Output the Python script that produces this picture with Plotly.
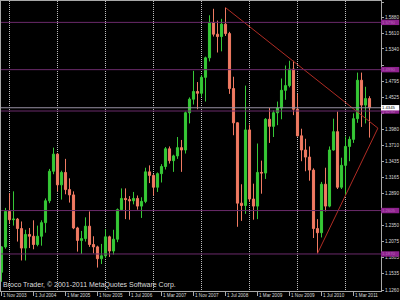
import plotly.graph_objects as go

# ---- data: EURUSD monthly, Nov 2003 .. Jul 2011 ----
months = ["2003-11", "2003-12"] + [f"{y}-{m:02d}" for y in range(2004, 2011) for m in range(1, 13)] + \
         [f"2011-{m:02d}" for m in range(1, 8)]

opens = [1.1560, 1.1990,
         1.2590, 1.2450, 1.2460, 1.2300, 1.1970, 1.2200, 1.2170, 1.2030, 1.2170, 1.2400, 1.2770, 1.3270,
         1.3560, 1.3040, 1.3250, 1.2960, 1.2870, 1.2310, 1.2100, 1.2130, 1.2340, 1.2030, 1.1990, 1.1790,
         1.1840, 1.2160, 1.1920, 1.2120, 1.2620, 1.2810, 1.2790, 1.2770, 1.2810, 1.2680, 1.2760, 1.3260,
         1.3200, 1.3000, 1.3230, 1.3350, 1.3650, 1.3450, 1.3530, 1.3670, 1.3630, 1.4260, 1.4490, 1.4620,
         1.4590, 1.4860, 1.5190, 1.5790, 1.5590, 1.5550, 1.5760, 1.5600, 1.4670, 1.4090, 1.2730, 1.2690,
         1.3970, 1.2800, 1.2680, 1.3250, 1.3240, 1.4150, 1.4030, 1.4260, 1.4340, 1.4640, 1.4720, 1.5000,
         1.4320, 1.3870, 1.3630, 1.3510, 1.3290, 1.2300, 1.2230, 1.3050, 1.2680, 1.3630, 1.3940, 1.3000,
         1.3370, 1.3690, 1.3810, 1.4160, 1.4810, 1.4390, 1.4500]
highs = [1.2000, 1.2650,
         1.2900, 1.2930, 1.2480, 1.2420, 1.2280, 1.2310, 1.2440, 1.2350, 1.2440, 1.2810, 1.3310, 1.3670,
         1.3580, 1.3280, 1.3480, 1.3150, 1.2930, 1.2330, 1.2260, 1.2490, 1.2590, 1.2170, 1.2010, 1.2040,
         1.2290, 1.2180, 1.2280, 1.2640, 1.2980, 1.2980, 1.2850, 1.2920, 1.2860, 1.2830, 1.3330, 1.3370,
         1.3220, 1.3250, 1.3390, 1.3680, 1.3690, 1.3550, 1.3850, 1.3800, 1.4280, 1.4520, 1.4970, 1.4780,
         1.4900, 1.5210, 1.5910, 1.6020, 1.5820, 1.5850, 1.6040, 1.5630, 1.4870, 1.4100, 1.3050, 1.4720,
         1.4060, 1.3060, 1.3740, 1.3450, 1.4170, 1.4340, 1.4300, 1.4450, 1.4840, 1.5060, 1.5140, 1.5140,
         1.4580, 1.3990, 1.3820, 1.3690, 1.3320, 1.2460, 1.3090, 1.3330, 1.3690, 1.4160, 1.4280, 1.3500,
         1.3860, 1.3860, 1.4250, 1.4940, 1.4940, 1.4700, 1.4540]
lows = [1.1400, 1.1960,
        1.2390, 1.2350, 1.2080, 1.1760, 1.1760, 1.1970, 1.1950, 1.2000, 1.2010, 1.2230, 1.2730, 1.3220,
        1.2930, 1.2790, 1.2880, 1.2740, 1.2290, 1.1910, 1.1870, 1.2080, 1.1990, 1.1880, 1.1640, 1.1700,
        1.1800, 1.1820, 1.1860, 1.2070, 1.2600, 1.2460, 1.2450, 1.2710, 1.2620, 1.2480, 1.2730, 1.3070,
        1.2860, 1.2920, 1.3080, 1.3300, 1.3400, 1.3260, 1.3480, 1.3260, 1.3570, 1.4080, 1.4400, 1.4320,
        1.4530, 1.4450, 1.5130, 1.5550, 1.5280, 1.5300, 1.5560, 1.4580, 1.3880, 1.2330, 1.2430, 1.2550,
        1.2750, 1.2450, 1.2460, 1.2890, 1.3140, 1.3750, 1.3850, 1.4050, 1.4150, 1.4480, 1.4690, 1.4220,
        1.3860, 1.3440, 1.3270, 1.3110, 1.2140, 1.1880, 1.2150, 1.2590, 1.2660, 1.3620, 1.2970, 1.2970,
        1.2860, 1.3440, 1.3750, 1.4090, 1.4020, 1.4080, 1.3840]
closes = [1.1990, 1.2590,
          1.2450, 1.2460, 1.2300, 1.1970, 1.2200, 1.2170, 1.2030, 1.2170, 1.2400, 1.2770, 1.3270, 1.3560,
          1.3040, 1.3250, 1.2960, 1.2870, 1.2310, 1.2100, 1.2130, 1.2340, 1.2030, 1.1990, 1.1790, 1.1840,
          1.2160, 1.1920, 1.2120, 1.2620, 1.2810, 1.2790, 1.2770, 1.2810, 1.2680, 1.2760, 1.3260, 1.3200,
          1.3000, 1.3230, 1.3350, 1.3650, 1.3450, 1.3530, 1.3670, 1.3630, 1.4260, 1.4490, 1.4620, 1.4590,
          1.4860, 1.5190, 1.5790, 1.5590, 1.5550, 1.5760, 1.5600, 1.4670, 1.4090, 1.2730, 1.2690, 1.3970,
          1.2800, 1.2680, 1.3250, 1.3240, 1.4150, 1.4030, 1.4260, 1.4340, 1.4640, 1.4720, 1.5000, 1.4320,
          1.3870, 1.3630, 1.3510, 1.3290, 1.2300, 1.2230, 1.3050, 1.2680, 1.3630, 1.3940, 1.3000, 1.3370,
          1.3690, 1.3810, 1.4160, 1.4810, 1.4390, 1.4500, 1.4345]

# date labels every 8 bars, starting at bar 0
date_label_idx = [0, 8, 16, 24, 32, 40, 48, 56, 64, 72, 80, 88]
date_labels = ["1 Nov 2003", "1 Jul 2004", "1 Mar 2005", "1 Nov 2005", "1 Jul 2006", "1 Mar 2007",
               "1 Nov 2007", "1 Jul 2008", "1 Mar 2009", "1 Nov 2009", "1 Jul 2010", "1 Mar 2011"]
# yearly grid (January bars)
year_grid_idx = [2, 14, 26, 38, 50, 62, 74, 86]

# price scale labels (those hidden behind the level boxes in the original are left out)
price_tick_vals = [1.6135, 1.5880, 1.5610, 1.5340, 1.5065, 1.4795, 1.4525, 1.4250,
                   1.3980, 1.3710, 1.3435, 1.3165, 1.2890, 1.2620, 1.2350, 1.2075,
                   1.1805, 1.1535, 1.1260]
price_tick_text = ["1.6135", "1.5880", "1.5610", "1.5340", "", "1.4795", "1.4525", "",
                   "1.3980", "1.3710", "1.3435", "1.3165", "1.2890", "", "1.2350", "1.2075",
                   "1.1805", "1.1535", "1.1260"]

hline_levels = [1.5790, 1.4990, 1.4290, 1.2605, 1.1870]
bid_price = 1.4345

# trendlines (bar index, price)
trend_down_x = [56, 94.1]
trend_down_y = [1.6040, 1.4000]
trend_up_x = [79, 94.1]
trend_up_y = [1.1880, 1.4000]

copyright_text = "Broco Trader, \u00a9 2001-2011 MetaQuotes Software Corp."

# ---- style ----
BG = "#000000"
UP = "#36c836"
DOWN = "#f07a62"
FRAME = "#a8a8a8"
TXT = "#dcdcdc"
PURPLE_LINE = "#6a2a6a"
PURPLE_BOX = "#8e228e"
FONT = "Liberation Sans"
FS = 4.6

x = list(range(len(opens)))

fig = go.Figure()
fig.add_trace(go.Candlestick(
    x=x, open=opens, high=highs, low=lows, close=closes,
    increasing=dict(line=dict(color=UP, width=1), fillcolor=UP),
    decreasing=dict(line=dict(color=DOWN, width=1), fillcolor=DOWN),
    whiskerwidth=0, showlegend=False, hoverinfo="skip"))

for tx, ty in ((trend_down_x, trend_down_y), (trend_up_x, trend_up_y)):
    fig.add_trace(go.Scatter(x=tx, y=ty, mode="lines", line=dict(color="#b02c24", width=1),
                             showlegend=False, hoverinfo="skip"))

shapes = []
annotations = []
# horizontal level lines + axis boxes
for lv in hline_levels:
    shapes.append(dict(type="line", xref="paper", x0=0, x1=1, yref="y", y0=lv, y1=lv,
                       line=dict(color=PURPLE_LINE, width=1), layer="above"))
shapes.append(dict(type="line", xref="paper", x0=0, x1=1, yref="y", y0=bid_price, y1=bid_price,
                   line=dict(color="#9890a4", width=1), layer="above"))

px_per_unit = 590.8
half = 2.7 / px_per_unit
for lv in hline_levels:
    shapes.append(dict(type="rect", xref="paper", x0=1.0, x1=1.048, yref="y", y0=lv - half, y1=lv + half,
                       fillcolor=PURPLE_BOX, line=dict(width=0), layer="above"))
    annotations.append(dict(xref="paper", x=1.003, xanchor="left", yref="y", y=lv, yanchor="middle",
                            text=f"{lv:.4f}", showarrow=False, borderpad=0, borderwidth=0,
                            font=dict(family=FONT, size=4.2, color="#b86ab8")))
shapes.append(dict(type="rect", xref="paper", x0=1.0, x1=1.048, yref="y",
                   y0=bid_price - half, y1=bid_price + half,
                   fillcolor="#ffffff", line=dict(width=0), layer="above"))
annotations.append(dict(xref="paper", x=1.003, xanchor="left", yref="y", y=bid_price, yanchor="middle",
                        text=f"{bid_price:.4f}", showarrow=False, borderpad=0, borderwidth=0,
                        font=dict(family=FONT, size=4.2, color="#000000")))

# date labels
for i, lab in zip(date_label_idx, date_labels):
    annotations.append(dict(xref="x", x=i, xanchor="left", yref="paper", y=0, yanchor="top",
                            text=lab, showarrow=False, xshift=-0.5, yshift=0.5,
                            font=dict(family=FONT, size=FS, color=TXT)))

annotations.append(dict(xref="paper", x=0, xanchor="left", yref="paper", y=0, yanchor="bottom",
                        text=copyright_text, showarrow=False, xshift=0, yshift=0,
                        font=dict(family=FONT, size=7.0, color=TXT)))

y_top = 1.6135 + 1 / px_per_unit
y_bot = 1.6135 - 289 / px_per_unit

fig.update_layout(
    width=400, height=300,
    margin=dict(l=1, r=19, t=1, b=9),
    paper_bgcolor=BG, plot_bgcolor=BG,
    showlegend=False,
    shapes=shapes, annotations=annotations,
    boxgap=0.25,
    xaxis=dict(range=[-0.125, 94.875], rangeslider=dict(visible=False),
               tickmode="array", tickvals=date_label_idx, showticklabels=False,
               ticks="outside", ticklen=4, tickcolor=FRAME, tickwidth=1,
               showgrid=False, zeroline=False,
               showline=True, linecolor=FRAME, linewidth=1, mirror=True,
               minor=dict(tickmode="array", tickvals=year_grid_idx, showgrid=True,
                          gridcolor="#bcbcbc", griddash="1px,1px", gridwidth=1, ticks="")),
    yaxis=dict(range=[y_bot, y_top], side="right",
               tickmode="array", tickvals=price_tick_vals, ticktext=price_tick_text,
               ticks="outside", ticklen=2, tickcolor=FRAME,
               tickfont=dict(family=FONT, size=FS, color=TXT),
               showgrid=False, zeroline=False,
               showline=True, linecolor=FRAME, linewidth=1, mirror=True),
)

fig.write_html("out.html")
